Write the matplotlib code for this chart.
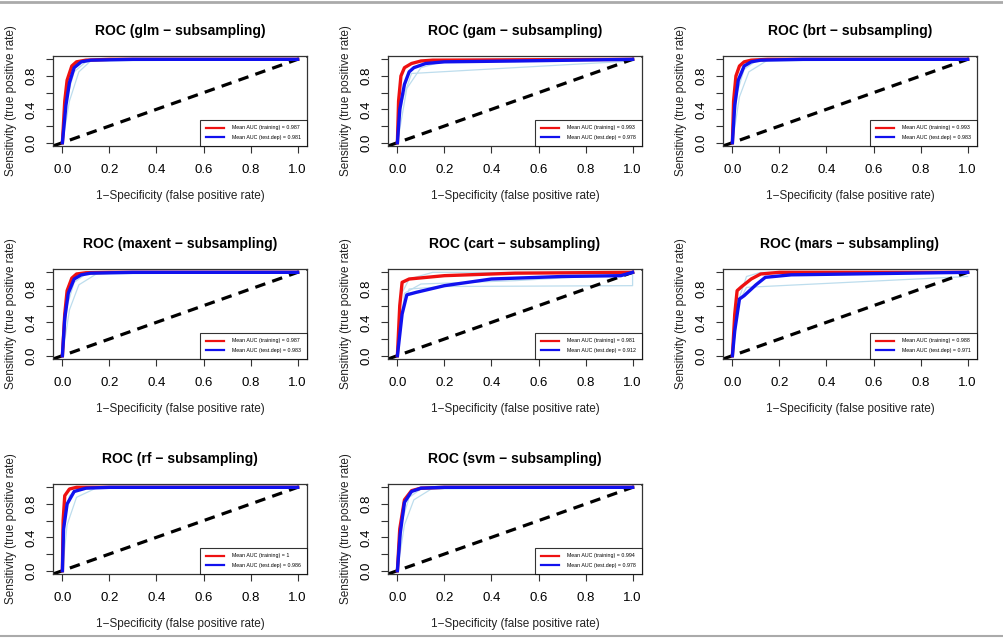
import matplotlib
matplotlib.use("Agg")
import matplotlib.pyplot as plt
from matplotlib.lines import Line2D

plt.rcParams['font.family'] = ['Liberation Sans', 'DejaVu Sans']

# model names and mean AUC values shown in the legends
models = ["glm", "gam", "brt", "maxent", "cart", "mars", "rf", "svm"]
auc_train = ["0.987", "0.993", "0.993", "0.987", "0.981", "0.988", "1", "0.994"]
auc_test = ["0.981", "0.978", "0.983", "0.983", "0.912", "0.971", "0.986", "0.978"]

# mean ROC curves (fpr, tpr)
train_fpr = {
    "glm": [0, 0.01, 0.02, 0.04, 0.06, 0.1, 0.2, 1],
    "gam": [0, 0.005, 0.015, 0.03, 0.06, 0.1, 0.15, 1],
    "brt": [0, 0.005, 0.015, 0.03, 0.05, 0.08, 0.15, 1],
    "maxent": [0, 0.01, 0.02, 0.04, 0.06, 0.1, 0.2, 1],
    "cart": [0, 0.01, 0.02, 0.05, 0.2, 0.5, 1],
    "mars": [0, 0.01, 0.02, 0.04, 0.08, 0.12, 0.2, 1],
    "rf": [0, 0.003, 0.01, 0.03, 0.06, 1],
    "svm": [0, 0.01, 0.03, 0.06, 0.1, 0.2, 1],
}
train_tpr = {
    "glm": [0, 0.5, 0.75, 0.92, 0.97, 0.99, 1, 1],
    "gam": [0, 0.5, 0.8, 0.9, 0.95, 0.98, 0.99, 1],
    "brt": [0, 0.5, 0.8, 0.92, 0.97, 0.99, 1, 1],
    "maxent": [0, 0.5, 0.78, 0.93, 0.98, 0.995, 1, 1],
    "cart": [0, 0.6, 0.88, 0.92, 0.96, 0.99, 1],
    "mars": [0, 0.5, 0.78, 0.83, 0.92, 0.98, 1, 1],
    "rf": [0, 0.6, 0.9, 0.98, 1, 1],
    "svm": [0, 0.5, 0.85, 0.96, 0.99, 1, 1],
}
test_fpr = {
    "glm": [0, 0.015, 0.03, 0.05, 0.08, 0.12, 0.3, 1],
    "gam": [0, 0.01, 0.03, 0.05, 0.07, 0.12, 0.2, 0.5, 1],
    "brt": [0, 0.01, 0.025, 0.05, 0.08, 0.12, 0.3, 1],
    "maxent": [0, 0.01, 0.025, 0.05, 0.08, 0.12, 0.3, 1],
    "cart": [0, 0.02, 0.04, 0.08, 0.2, 0.4, 0.7, 0.95, 1],
    "mars": [0, 0.01, 0.03, 0.05, 0.1, 0.14, 0.25, 0.5, 1],
    "rf": [0, 0.005, 0.02, 0.05, 0.1, 0.2, 1],
    "svm": [0, 0.012, 0.03, 0.06, 0.1, 0.2, 1],
}
test_tpr = {
    "glm": [0, 0.45, 0.72, 0.9, 0.97, 0.99, 1, 1],
    "gam": [0, 0.4, 0.7, 0.85, 0.9, 0.95, 0.97, 0.98, 1],
    "brt": [0, 0.45, 0.75, 0.92, 0.97, 0.99, 1, 1],
    "maxent": [0, 0.45, 0.75, 0.92, 0.97, 0.99, 1, 1],
    "cart": [0, 0.5, 0.73, 0.76, 0.84, 0.92, 0.95, 0.96, 1],
    "mars": [0, 0.3, 0.68, 0.72, 0.85, 0.94, 0.97, 0.98, 1],
    "rf": [0, 0.5, 0.8, 0.95, 0.99, 1, 1],
    "svm": [0, 0.45, 0.82, 0.95, 0.99, 1, 1],
}

# a few individual subsample curves (light blue)
sub_fpr = {
    "glm": [[0, 0.02, 0.05, 0.1, 0.2, 1], [0, 0.03, 0.07, 0.12, 1]],
    "gam": [[0, 0.02, 0.06, 1], [0, 0.04, 0.1, 0.2, 1]],
    "brt": [[0, 0.02, 0.05, 0.1, 1], [0, 0.03, 0.07, 0.15, 1]],
    "maxent": [[0, 0.02, 0.05, 0.1, 1], [0, 0.03, 0.07, 0.15, 1]],
    "cart": [[0, 0.02, 0.05, 0.2, 1, 1], [0, 0.01, 0.05, 0.15, 1], [0, 0.03, 0.1, 0.5, 1]],
    "mars": [[0, 0.02, 0.06, 1], [0, 0.03, 0.06, 0.12, 1]],
    "rf": [[0, 0.01, 0.03, 0.08, 1], [0, 0.02, 0.06, 0.15, 1]],
    "svm": [[0, 0.02, 0.05, 0.1, 1], [0, 0.03, 0.07, 0.15, 1]],
}
sub_tpr = {
    "glm": [[0, 0.55, 0.85, 0.97, 1, 1], [0, 0.5, 0.85, 0.98, 1]],
    "gam": [[0, 0.5, 0.83, 0.98], [0, 0.65, 0.9, 0.98, 1]],
    "brt": [[0, 0.6, 0.88, 0.98, 1], [0, 0.55, 0.85, 0.99, 1]],
    "maxent": [[0, 0.6, 0.88, 0.98, 1], [0, 0.55, 0.85, 0.99, 1]],
    "cart": [[0, 0.55, 0.8, 0.83, 0.84, 1], [0, 0.7, 0.92, 1, 1], [0, 0.75, 0.86, 0.9, 0.98]],
    "mars": [[0, 0.6, 0.82, 0.95], [0, 0.7, 0.95, 1, 1]],
    "rf": [[0, 0.6, 0.9, 0.99, 1], [0, 0.55, 0.88, 1, 1]],
    "svm": [[0, 0.6, 0.88, 0.98, 1], [0, 0.55, 0.85, 0.99, 1]],
}

W, H = 1004, 639
fig = plt.figure(figsize=(W / 100, H / 100), dpi=100)
fig.patch.set_facecolor("white")

col_left = [53, 388, 723]
row_top = [56, 269, 484]
aw, ah = 254, 90

for i, m in enumerate(models):
    r, c = divmod(i, 3)
    ax = fig.add_axes([col_left[c] / W, 1 - (row_top[r] + ah) / H, aw / W, ah / H])
    for fx, ty in zip(sub_fpr[m], sub_tpr[m]):
        ax.plot(fx, ty, color="#bddded", lw=0.9, zorder=1)
    ax.plot([-0.04, 1.04], [-0.04, 1.04], color="black", lw=2.3,
            dashes=(3.3, 2.3), zorder=2)
    l1, = ax.plot(train_fpr[m], train_tpr[m], color="#ee1111", lw=2.4, zorder=3)
    l2, = ax.plot(test_fpr[m], test_tpr[m], color="#1111ee", lw=2.4, zorder=4)
    ax.set_xlim(-0.04, 1.04)
    ax.set_ylim(-0.04, 1.04)
    ax.set_xticks([0, 0.2, 0.4, 0.6, 0.8, 1.0])
    ax.set_xticklabels(["0.0", "0.2", "0.4", "0.6", "0.8", "1.0"], fontsize=9.5)
    ax.set_yticks([0, 0.2, 0.4, 0.6, 0.8, 1.0])
    ax.set_yticklabels(["0.0", "", "0.4", "", "0.8", ""], fontsize=9.5,
                       rotation=90, va="center")
    ax.tick_params(direction="out", length=5, width=0.8, color="#333333")
    ax.tick_params(axis="x", pad=8)
    ax.tick_params(axis="y", pad=6)
    for s in ax.spines.values():
        s.set_color("#333333")
        s.set_linewidth(0.9)
    ax.set_title("ROC (%s \u2212 subsampling)" % m, fontsize=10,
                 fontweight="bold", pad=15)
    ax.set_xlabel("1\u2212Specificity (false positive rate)", fontsize=8.5,
                  labelpad=10, color="#222222")
    ax.set_ylabel("Sensitivity (true positive rate)", fontsize=8.5,
                  labelpad=6, color="#222222")
    leg = ax.legend([l1, l2], ["Mean AUC (training) = " + auc_train[i],
                               "Mean AUC (test.dep) = " + auc_test[i]],
                    loc="lower right", fontsize=3.8, frameon=True, fancybox=False,
                    borderaxespad=0, handlelength=3.4, borderpad=1.1,
                    labelspacing=0.9, handletextpad=1.6)
    leg.get_frame().set_edgecolor("black")
    leg.get_frame().set_linewidth(0.8)
    for lh in leg.get_lines():
        lh.set_linewidth(1.6)

# light grey page border lines at top and bottom
fig.add_artist(Line2D([0, 1], [1 - 1.5 / H, 1 - 1.5 / H], color="#aaaaaa", lw=2))
fig.add_artist(Line2D([0, 1], [3 / H, 3 / H], color="#aaaaaa", lw=1.5))

fig.savefig("out.png", dpi=100)
